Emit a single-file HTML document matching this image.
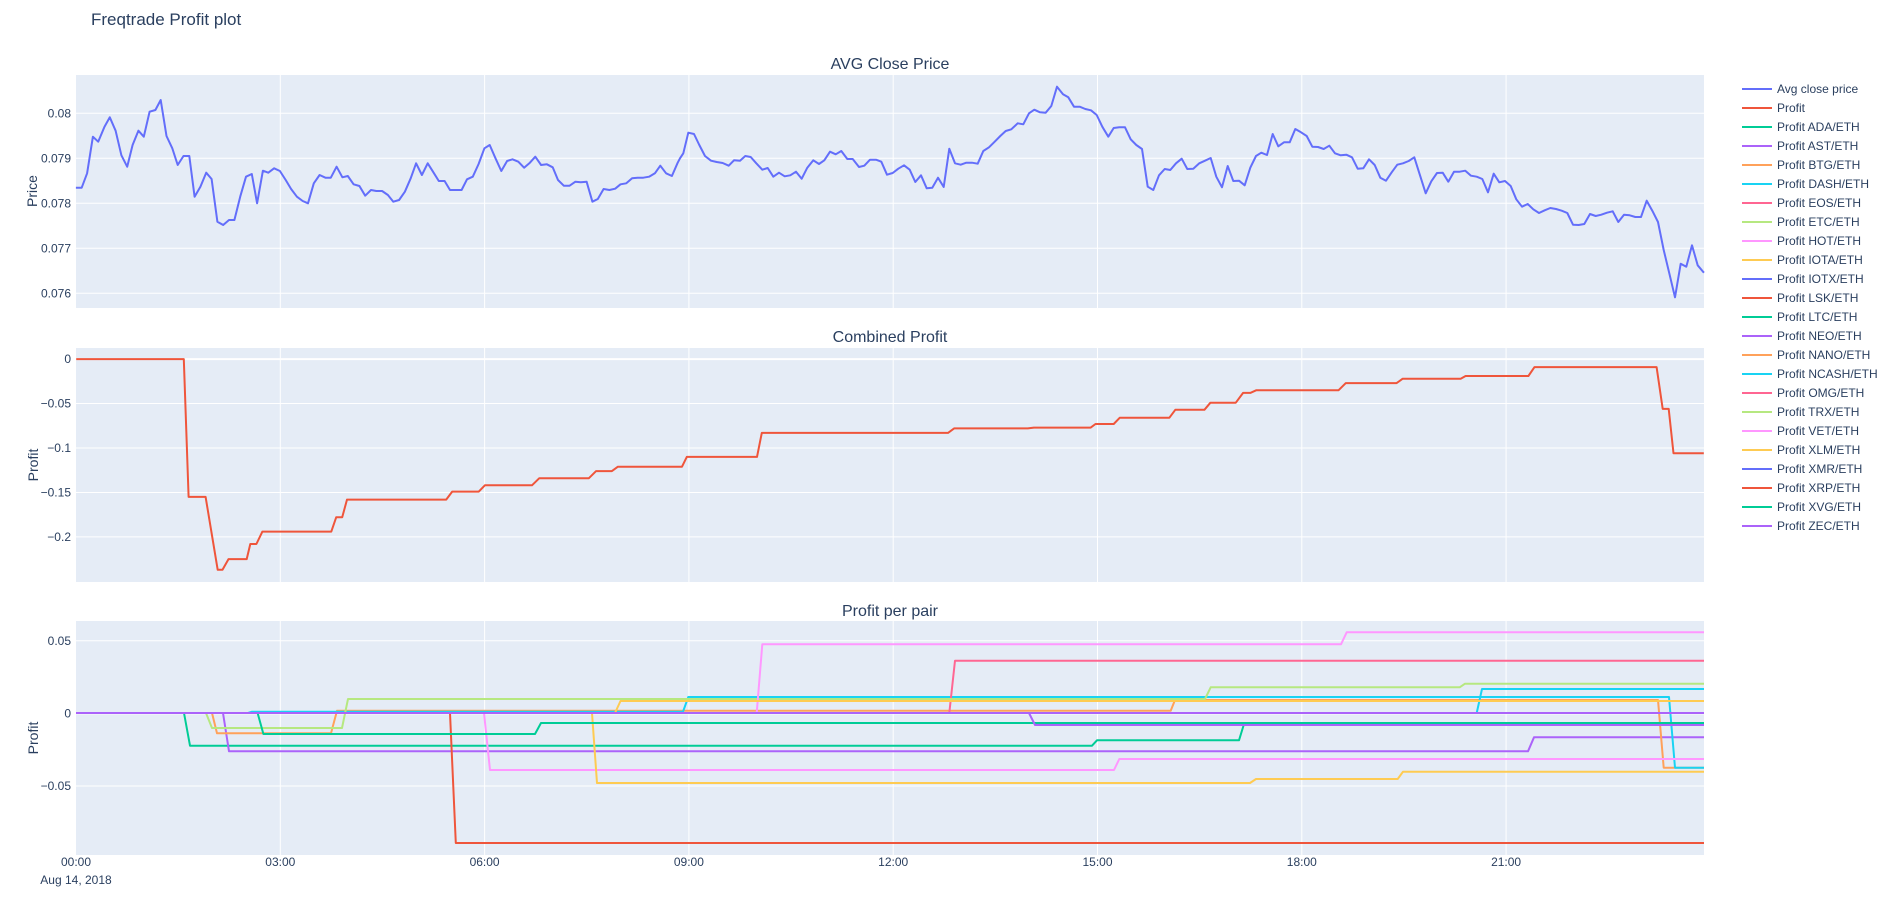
<!DOCTYPE html>
<html><head><meta charset="utf-8"><style>
html,body{margin:0;padding:0;background:#fff;width:1896px;height:913px;overflow:hidden}
svg{display:block}
text{font-family:"Liberation Sans","DejaVu Sans",sans-serif;fill:#2a3f5f}
</style></head><body>
<svg id="s" width="1896" height="913" viewBox="0 0 1896 913" xmlns="http://www.w3.org/2000/svg"></svg>
<script>
const S=document.getElementById('s');let h='';
const L=76,R=1704;
const panels=[[75,308],[348,582],[621,855]];
const X=t=>L+t*68.1;
// backgrounds
panels.forEach(p=>{h+=`<rect x="${L}" y="${p[0]}" width="${R-L}" height="${p[1]-p[0]}" fill="#E5ECF6"/>`;
 for(let k=1;k<8;k++){const x=X(3*k);h+=`<line x1="${x}" x2="${x}" y1="${p[0]}" y2="${p[1]}" stroke="#fff" stroke-width="1"/>`;}});
function hl(y,lab,w){h+=`<line x1="${L}" x2="${R}" y1="${y}" y2="${y}" stroke="#fff" stroke-width="${w||1}"/><text x="71" y="${y+4}" font-size="12" text-anchor="end">${lab}</text>`;}
// panel1
[[0.08,'0.08'],[0.079,'0.079'],[0.078,'0.078'],[0.077,'0.077'],[0.076,'0.076']].forEach(a=>hl(113.3+(0.08-a[0])*45000,a[1]));
// panel2
const y2=v=>359.1-v/0.05*44.45;
[[0,'0',2],[-0.05,'−0.05'],[-0.1,'−0.1'],[-0.15,'−0.15'],[-0.2,'−0.2']].forEach(a=>hl(y2(a[0]),a[1],a[2]));
// panel3
const y3=v=>713.4-v*1452;
[[0.05,'0.05'],[0,'0',2],[-0.05,'−0.05']].forEach(a=>hl(y3(a[0]),a[1],a[2]));
// titles
h+=`<text x="91" y="25" font-size="17">Freqtrade Profit plot</text>`;
h+=`<text x="890" y="69" font-size="16" text-anchor="middle">AVG Close Price</text>`;
h+=`<text x="890" y="342" font-size="16" text-anchor="middle">Combined Profit</text>`;
h+=`<text x="890" y="616" font-size="16" text-anchor="middle">Profit per pair</text>`;
h+=`<text transform="translate(37,191) rotate(-90)" font-size="14" text-anchor="middle">Price</text>`;
h+=`<text transform="translate(38,465) rotate(-90)" font-size="14" text-anchor="middle">Profit</text>`;
h+=`<text transform="translate(38,738) rotate(-90)" font-size="14" text-anchor="middle">Profit</text>`;
['00:00','03:00','06:00','09:00','12:00','15:00','18:00','21:00'].forEach((t,i)=>{h+=`<text x="${X(3*i)}" y="866" font-size="12" text-anchor="middle">${t}</text>`;});
h+=`<text x="76" y="884" font-size="12" text-anchor="middle">Aug 14, 2018</text>`;
function pl(pts,c){h+=`<polyline fill="none" stroke="${c}" stroke-width="2" stroke-linejoin="round" points="${pts.map(p=>p[0].toFixed(1)+','+p[1].toFixed(1)).join(' ')}"/>`;}
// price
const z1=[[170,563],[183,563],[195,520],[208,410],[220,425],[234,380],[246,352],[259,392],[272,466],[285,500],[297,435],[310,392],[322,410],[335,335],[348,330],[360,300],[373,408],[386,445],[398,495],[411,468],[424,468],[436,590],[449,560],[462,518],[474,537],[487,665],[500,675],[513,660],[525,660],[538,590],[551,530],[564,522],[576,610],[589,512],[601,518],[614,505],[627,513],[640,540],[652,567],[665,590],[678,603],[690,610],[703,550],[716,525],[729,533],[741,533],[754,500],[767,532],[779,528],[792,553],[805,558],[818,587],[831,570],[843,573],[856,573],[869,585],[881,605],[894,600],[907,575],[920,535],[932,490],[945,525],[958,490],[970,515],[983,543],[996,543],[1008,570],[1021,570],[1034,570],[1046,538],[1059,530],[1072,492],[1085,445],[1097,435],[1110,475],[1123,513],[1136,483],[1148,478],[1161,485],[1174,503],[1187,488],[1199,470],[1212,495],[1225,493],[1238,502],[1250,540],[1263,557],[1276,557],[1289,545],[1301,547],[1314,545],[1327,605],[1339,597],[1352,567],[1365,570],[1378,566],[1390,553],[1403,550],[1416,535],[1428,533],[1441,533],[1454,530],[1467,520],[1479,497],[1492,520],[1505,528],[1518,488]];
const z5=[[0,265],[10,250],[25,188],[42,192],[58,225],[75,258],[93,272],[110,276],[128,279],[146,287],[162,271],[180,272],[196,258],[212,261],[229,280],[247,299],[263,294],[280,320],[297,308],[314,319],[331,316],[348,305],[365,326],[382,293],[400,271],[417,282],[433,271],[450,245],[467,253],[484,243],[502,267],[518,267],[537,291],[553,287],[570,269],[588,269],[604,275],[621,314],[638,309],[655,296],[672,286],[689,299],[706,336],[723,316],[740,355],[757,353],[774,323],[791,351],[808,236],[825,280],[842,284],[859,278],[876,278],[893,281],[910,243],[927,232],[944,215],[961,198],[977,183],[994,178],[1013,160],[1030,163],[1047,130],[1063,119],[1080,127],[1097,128],[1114,108],[1131,50],[1149,73],[1165,82],[1182,110],[1199,110],[1216,117],[1233,121],[1250,135],[1267,170],[1285,200],[1301,174],[1318,172],[1335,172],[1352,208],[1369,225],[1386,237],[1403,350],[1420,360],[1437,316],[1454,297],[1471,300],[1488,280],[1505,266],[1522,297]];
const z6=[[10,296],[28,280],[45,272],[62,264],[79,320],[96,352],[113,288],[130,333],[147,332],[164,346],[181,293],[198,258],[214,248],[231,255],[248,192],[265,229],[282,217],[299,217],[316,177],[333,187],[350,198],[367,230],[384,231],[401,237],[418,227],[435,250],[452,256],[469,254],[486,262],[503,296],[520,295],[537,268],[554,285],[571,323],[588,332],[605,307],[622,284],[639,280],[656,273],[673,262],[690,316],[707,370],[724,334],[741,309],[758,308],[775,335],[792,305],[809,305],[826,302],[843,317],[860,320],[877,327],[894,367],[911,311],[928,337],[945,333],[962,348],[979,388],[996,410],[1013,402],[1030,418],[1047,429],[1064,421],[1081,414],[1098,417],[1115,422],[1132,429],[1149,464],[1166,465],[1183,462],[1200,432],[1217,438],[1234,434],[1251,428],[1268,424],[1285,456],[1302,434],[1319,436],[1336,441],[1353,441],[1370,392],[1387,422],[1404,456],[1421,540],[1438,610],[1455,682],[1472,581],[1489,590],[1506,526],[1523,586],[1540,606],[1542,608]];
const price=[...z1.map(p=>[p[0]/2.24,p[1]/3]),...z5.map(p=>[p[0]/3+680,p[1]/3+70]),...z6.map(p=>[p[0]/3+1190,p[1]/3+70])];
pl(price,'#636efa');
// combined profit (shown coords)
const cp=[[63,0],[152,0],[156,-0.155],[170,-0.155],[180,-0.237],[184,-0.237],[189,-0.225],[204,-0.225],[207,-0.208],[212,-0.208],[217,-0.194],[274,-0.194],[278,-0.178],[283,-0.178],[287,-0.158],[369,-0.158],[374,-0.149],[396,-0.149],[401,-0.142],[440,-0.142],[446,-0.134],[487,-0.134],[493,-0.126],[506,-0.126],[511,-0.121],[564,-0.121],[568,-0.110],[626,-0.110],[630,-0.083],[784,-0.083],[789,-0.078],[850,-0.078],[855,-0.077],[902,-0.077],[906,-0.073],[921,-0.073],[926,-0.066],[967,-0.066],[972,-0.057],[996,-0.057],[1001,-0.049],[1022,-0.049],[1028,-0.038],[1034,-0.038],[1039,-0.035],[1107,-0.035],[1113,-0.027],[1155,-0.027],[1160,-0.022],[1208,-0.022],[1212,-0.019],[1264,-0.019],[1269,-0.009],[1370,-0.009],[1375,-0.056],[1380,-0.056],[1384,-0.106],[1409,-0.106]];
pl(cp.map(p=>[p[0]*1.2092,y2(p[1])]),'#EF553B');
// per pair
const Z=[[76,713],[1704,713]];
const P3=[
['#00cc96',[[76,713],[184,713],[190,745.7],[1092,745.7],[1097,740.3],[1239,740.3],[1244,724],[1704,724]]],
['#ab63fa',[[76,713],[223,713],[229,751.3],[1528,751.3],[1534,737.3],[1704,737.3]]],
['#FFA15A',[[76,713],[212,713],[217,733.3],[331,733.3],[337,710.7],[1170.7,710.7],[1175,700],[1658,700],[1663.7,767.7],[1704,767.7]]],
['#19d3f3',[[76,713],[248,713],[252,711.7],[683,711.7],[688.3,697],[1669,697],[1675,767.7],[1704,767.7]]],
['#FF6692',[[76,713],[949.3,713],[955,660.7],[1704,660.7]]],
['#B6E880',[[76,713],[206,713],[212,728],[342,728],[348,699],[1205,699],[1210.7,687.3],[1459.7,687.3],[1465,683.7],[1704,683.7]]],
['#FF97FF',[[76,713],[484,713],[490,770],[1114,770],[1119.3,759],[1704,759]]],
['#FECB52',[[76,713],[592,713],[597,783],[1250,783],[1256,779],[1397.7,779],[1403,771.7],[1704,771.7]]],
['#636efa',Z],
['#EF553B',[[76,713],[450,713],[455.8,843],[1704,843]]],
['#00cc96',[[76,713],[257.6,713],[263.4,734],[535,734],[541,723],[1704,723]]],
['#ab63fa',[[76,713],[1029,713],[1035,725],[1704,725]]],
['#19d3f3',[[76,713],[1476.7,713],[1482,689],[1704,689]]],
['#FF97FF',[[76,713],[756.7,713],[762.3,644.3],[1341,644.3],[1346.7,632.3],[1704,632.3]]],
['#FECB52',[[76,713],[615,713],[620.5,701],[1704,701]]],
['#636efa',Z],['#ab63fa',Z]];
P3.forEach(s=>pl(s[1],s[0]));
// legend
const lg=[['Avg close price','#636efa'],['Profit','#EF553B'],['Profit ADA/ETH','#00cc96'],['Profit AST/ETH','#ab63fa'],['Profit BTG/ETH','#FFA15A'],['Profit DASH/ETH','#19d3f3'],['Profit EOS/ETH','#FF6692'],['Profit ETC/ETH','#B6E880'],['Profit HOT/ETH','#FF97FF'],['Profit IOTA/ETH','#FECB52'],['Profit IOTX/ETH','#636efa'],['Profit LSK/ETH','#EF553B'],['Profit LTC/ETH','#00cc96'],['Profit NEO/ETH','#ab63fa'],['Profit NANO/ETH','#FFA15A'],['Profit NCASH/ETH','#19d3f3'],['Profit OMG/ETH','#FF6692'],['Profit TRX/ETH','#B6E880'],['Profit VET/ETH','#FF97FF'],['Profit XLM/ETH','#FECB52'],['Profit XMR/ETH','#636efa'],['Profit XRP/ETH','#EF553B'],['Profit XVG/ETH','#00cc96'],['Profit ZEC/ETH','#ab63fa']];
lg.forEach((a,i)=>{const y=89+i*19;h+=`<line x1="1742" x2="1772" y1="${y}" y2="${y}" stroke="${a[1]}" stroke-width="2"/><text x="1777" y="${y+4}" font-size="12">${a[0]}</text>`;});
S.innerHTML=h;
</script>
</body></html>
